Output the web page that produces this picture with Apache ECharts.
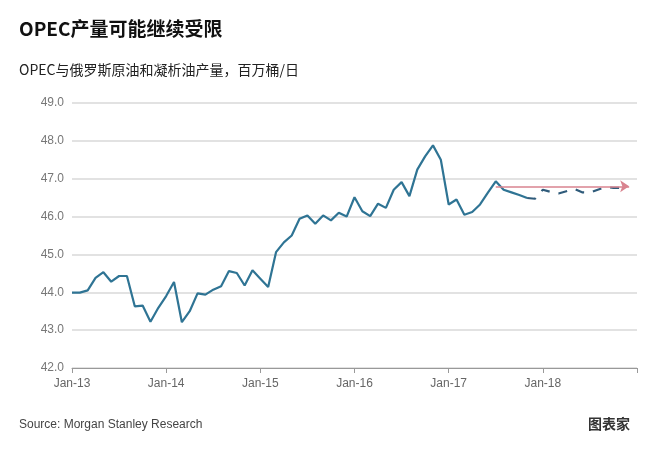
<!DOCTYPE html>
<html><head><meta charset="utf-8">
<script src="https://cdn.jsdelivr.net/npm/echarts@6/dist/echarts.min.js"></script>
<style>html,body{margin:0;padding:0;background:#fff}#c{width:670px;height:450px}</style>
</head><body><div id="c"></div>
<script>
const months=['Jan','Feb','Mar','Apr','May','Jun','Jul','Aug','Sep','Oct','Nov','Dec'];
const categories=[];
for(let y=13;y<=19;y++){for(const m of months){categories.push(m+'-'+y); if(y===19)break;}}
const actual=[43.99,43.99,44.05,44.38,44.53,44.28,44.43,44.43,43.63,43.65,43.22,43.59,43.9,44.27,43.21,43.5,43.97,43.94,44.07,44.16,44.56,44.51,44.18,44.58,44.36,44.14,45.06,45.32,45.5,45.94,46.03,45.81,46.03,45.9,46.1,46.0,46.51,
46.14,46.01,46.34,46.23,46.71,46.91,46.54,47.24,47.59,47.88,47.5,46.32,46.45,46.05,46.12,46.32,46.63,46.93,46.71,46.64,46.57,46.49];
const forecast=[46.49,46.47,46.71,46.65,46.61,46.67,46.73,46.64,46.63,46.71,46.78,46.76,46.76];
const trendLevel=46.8;
const s1=categories.map((c,i)=>i<actual.length?actual[i]:null);
const s2=categories.map((c,i)=>{const k=i-(actual.length-1);return k>=0&&k<forecast.length?forecast[k]:null;});
const chart=echarts.init(document.getElementById('c'));
chart.setOption({
 animation:false,
 title:[{text:'OPEC产量可能继续受限',left:14,top:14,textStyle:{fontSize:19,fontWeight:'bold',color:'#111',fontFamily:'Noto Sans CJK SC'}},
  {text:'OPEC与俄罗斯原油和凝析油产量，百万桶/日',left:14,top:58,textStyle:{fontSize:14,fontWeight:'normal',color:'#222',fontFamily:'Noto Sans CJK SC'}},
  {text:'Source: Morgan Stanley Research',left:14,top:414,textStyle:{fontSize:12,fontWeight:'normal',color:'#444',fontFamily:'Arial'}},
  {text:'图表家',left:583,top:412,textStyle:{fontSize:14,fontWeight:'bold',color:'#333',fontFamily:'Noto Sans CJK SC'}}],
 grid:{left:72,right:33,top:103,bottom:82},
 xAxis:{type:'category',data:categories,boundaryGap:false,
  axisLine:{lineStyle:{color:'#999'}},axisTick:{interval:(i)=>i%12===0,lineStyle:{color:'#999'},length:5},
  axisLabel:{interval:(i)=>i%12===0&&i<72,color:'#666',fontSize:12,fontFamily:'Arial',margin:10},splitLine:{show:false}},
 yAxis:{type:'value',min:42,max:49,interval:1,
  axisLabel:{formatter:v=>v.toFixed(1),color:'#777',fontSize:12,fontFamily:'Arial'},
  axisLine:{show:false},axisTick:{show:false},splitLine:{lineStyle:{color:'#d9d9d9',width:1.5}}},
 series:[
  {type:'line',data:s1,symbol:'none',lineStyle:{color:'#2f7494',width:2.2},
   markLine:{silent:true,symbol:['none','arrow'],symbolSize:9,label:{show:false},lineStyle:{color:'#d9838f',type:'solid',width:1.5},
    data:[[{coord:[54,trendLevel]},{coord:[71,trendLevel]}]]}},
  {type:'line',data:s2,symbol:'none',lineStyle:{color:'#2f5b7a',width:2.2,type:[9,9]}}
 ]
});
</script></body></html>
